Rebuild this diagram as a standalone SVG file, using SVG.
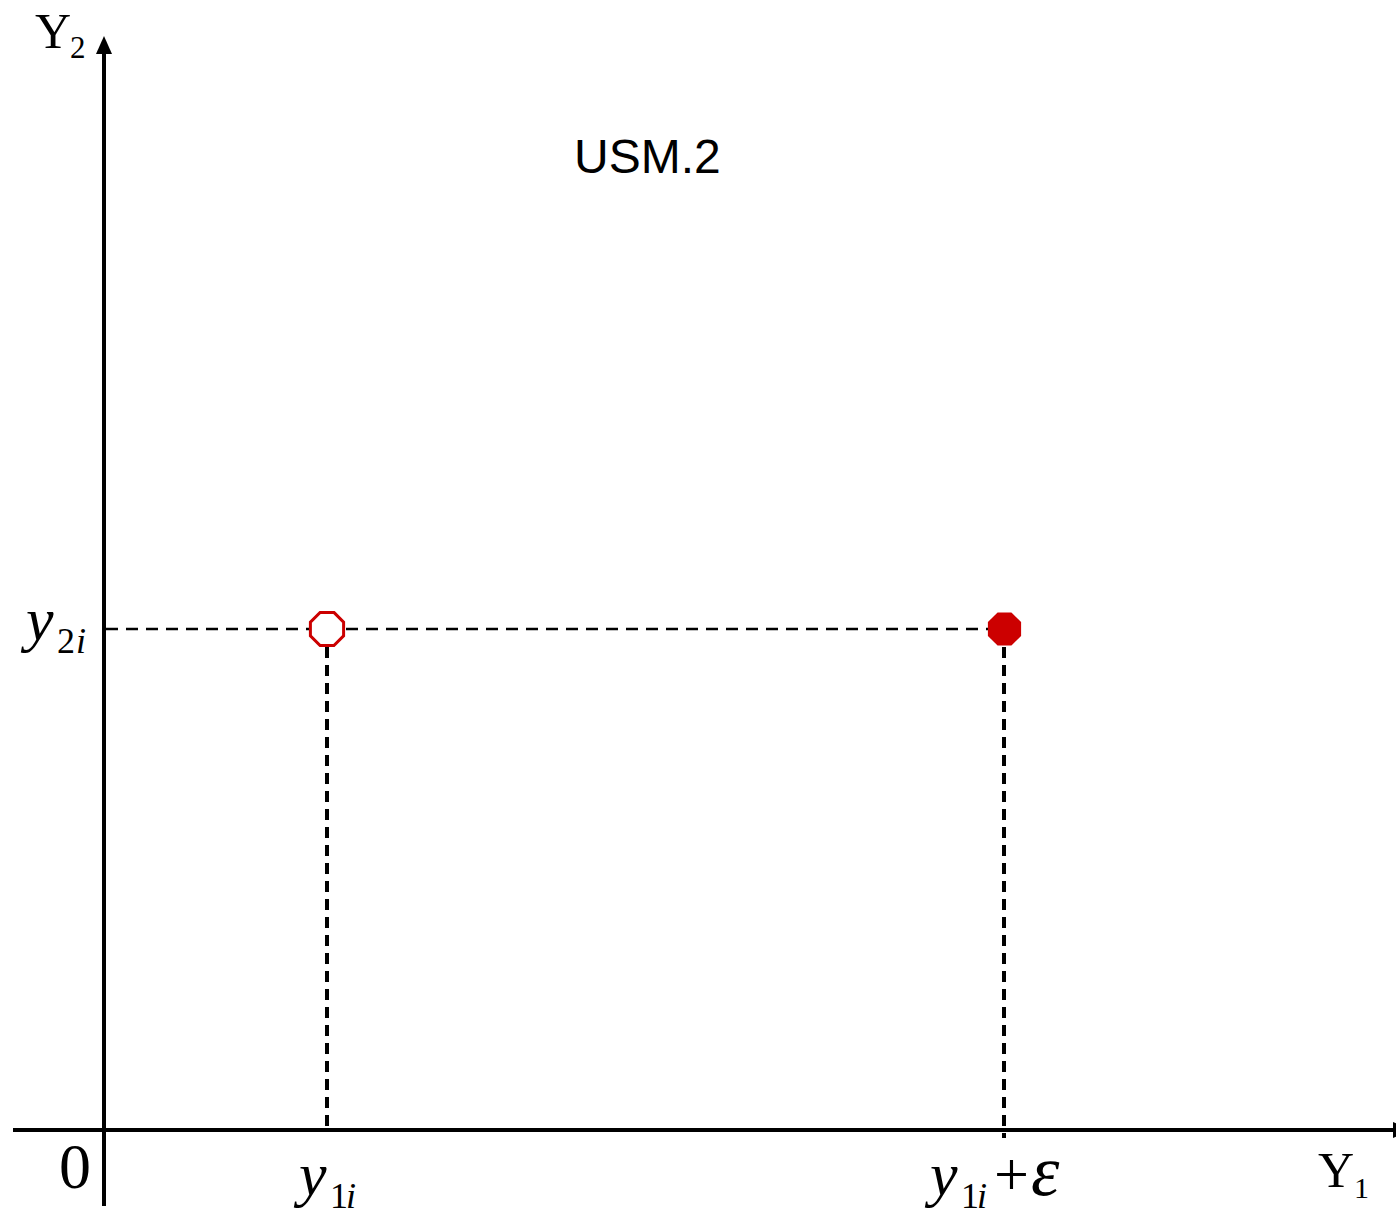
<svg xmlns="http://www.w3.org/2000/svg" width="1396" height="1215" viewBox="0 0 1396 1215">
<style>
.axis{stroke:#000;stroke-width:4;fill:none}
.hd{stroke:#000;stroke-width:2.5;stroke-dasharray:12 8;fill:none}
.vd{stroke:#000;stroke-width:4;stroke-dasharray:11 7;fill:none}
.tnr{font-family:"Liberation Serif","Times New Roman",serif;fill:#000}
.it{font-family:"Liberation Serif","Times New Roman",serif;font-style:italic;fill:#000}
.up{font-family:"Liberation Serif","Times New Roman",serif;font-style:normal}
.sans{font-family:"Liberation Sans",Arial,sans-serif;fill:#000}
</style>
<defs>
<polygon id="oct" points="6.9,-16.6 16.6,-6.9 16.6,6.9 6.9,16.6 -6.9,16.6 -16.6,6.9 -16.6,-6.9 -6.9,-16.6"/>
</defs>
<rect width="1396" height="1215" fill="#fff"/>
<g id="connectors">
<line class="hd" x1="106" y1="629" x2="990" y2="629"/>
<line class="vd" x1="327" y1="647" x2="327" y2="1129"/>
<line class="vd" x1="1004" y1="647" x2="1004" y2="1138"/>
</g>
<g id="axes">
<line class="axis" x1="104" y1="1206" x2="104" y2="50"/>
<polygon points="104,36 96,54 112,54" fill="#000"/>
<line class="axis" x1="13" y1="1130" x2="1395" y2="1130"/>
<polygon points="1411,1130 1393,1122 1393,1138" fill="#000"/>
</g>
<g id="point-open">
<use href="#oct" x="327" y="629" fill="#fff" stroke="#cc0000" stroke-width="3"/>
</g>
<g id="point-filled">
<use href="#oct" x="1004.5" y="629" fill="#cc0000"/>
</g>
<g id="labels">
<text class="tnr" x="35" y="48" font-size="50">Y</text>
<text class="tnr" x="70" y="58" font-size="31">2</text>
<text class="sans" x="574" y="173" font-size="48">USM.2</text>
<text class="it" x="26" y="640" font-size="62">y<tspan class="up" x="57" y="653" font-size="36">2</tspan><tspan x="76" y="653" font-size="36">i</tspan></text>
<text class="tnr" x="59" y="1188" font-size="64">0</text>
<text class="it" x="299" y="1195" font-size="62">y<tspan class="up" x="330" y="1208" font-size="36">1</tspan><tspan x="346" y="1208" font-size="36">i</tspan></text>
<text class="it" x="930" y="1195" font-size="62">y<tspan class="up" x="961" y="1208" font-size="36">1</tspan><tspan x="977" y="1208" font-size="36">i</tspan><tspan class="up" x="994" y="1195" font-size="62">+</tspan><tspan x="1031" y="1195" font-size="72">ε</tspan></text>
<text class="tnr" x="1318" y="1187" font-size="50">Y</text>
<text class="tnr" x="1354" y="1198" font-size="30">1</text>
</g>
</svg>
